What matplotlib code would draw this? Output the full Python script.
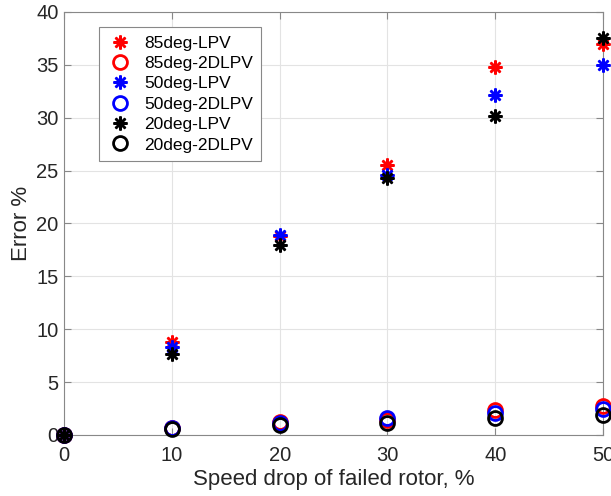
import matplotlib
matplotlib.use('Agg')
import matplotlib.pyplot as plt

plt.rcParams['font.family'] = ['Liberation Sans', 'DejaVu Sans']

# speed drop of failed rotor (%)
speed_drop = [0, 10, 20, 30, 40, 50]

# error % for each attitude / controller
err_85_lpv = [0, 8.8, 18.8, 25.5, 34.8, 37.0]
err_85_2d = [0, 0.7, 1.2, 1.4, 2.4, 2.7]
err_50_lpv = [0, 8.3, 18.9, 24.6, 32.1, 35.0]
err_50_2d = [0, 0.7, 1.1, 1.6, 2.1, 2.5]
err_20_lpv = [0, 7.7, 18.0, 24.3, 30.2, 37.5]
err_20_2d = [0, 0.6, 0.9, 1.1, 1.6, 1.9]

series = [
    ('85deg-LPV', err_85_lpv, 'red', 'star'),
    ('85deg-2DLPV', err_85_2d, 'red', 'circle'),
    ('50deg-LPV', err_50_lpv, 'blue', 'star'),
    ('50deg-2DLPV', err_50_2d, 'blue', 'circle'),
    ('20deg-LPV', err_20_lpv, 'black', 'star'),
    ('20deg-2DLPV', err_20_2d, 'black', 'circle'),
]

fig = plt.figure(figsize=(6.11, 4.96), dpi=100)
ax = fig.add_axes([0.105, 0.123, 0.882, 0.853])

for label, vals, col, kind in series:
    if kind == 'star':
        ax.plot(speed_drop, vals, linestyle='none', marker=(8, 2, 0), markersize=10,
                markeredgewidth=1.8, color=col, label=label, clip_on=False, zorder=3)
    else:
        ax.plot(speed_drop, vals, linestyle='none', marker='o', markersize=10,
                markeredgewidth=2, markerfacecolor='none', markeredgecolor=col,
                label=label, clip_on=False, zorder=3)

ax.set_xlim(0, 50)
ax.set_ylim(0, 40)
ax.set_xticks(range(0, 51, 10))
ax.set_yticks(range(0, 41, 5))
ax.grid(True, color='#e3e3e3', linewidth=0.8)
ax.set_axisbelow(True)

for s in ax.spines.values():
    s.set_color('#888888')
    s.set_linewidth(0.8)
ax.tick_params(direction='in', length=5, color='#888888', labelsize=14.5,
               labelcolor='#262626', top=True, right=True)
ax.tick_params(axis='x', pad=8)
ax.tick_params(axis='y', pad=4)

ax.set_xlabel('Speed drop of failed rotor, %', fontsize=16, color='#262626', labelpad=3)
ax.set_ylabel('Error %', fontsize=16, color='#262626', labelpad=3)

leg = ax.legend(loc='upper left', bbox_to_anchor=(0.048, 0.985), fontsize=12.5,
                frameon=True, fancybox=False, edgecolor='#888888', framealpha=1,
                handletextpad=0.6, labelspacing=0.3, borderpad=0.5, handlelength=1.5)
leg.get_frame().set_linewidth(0.8)

plt.savefig('out.png', dpi=100)
